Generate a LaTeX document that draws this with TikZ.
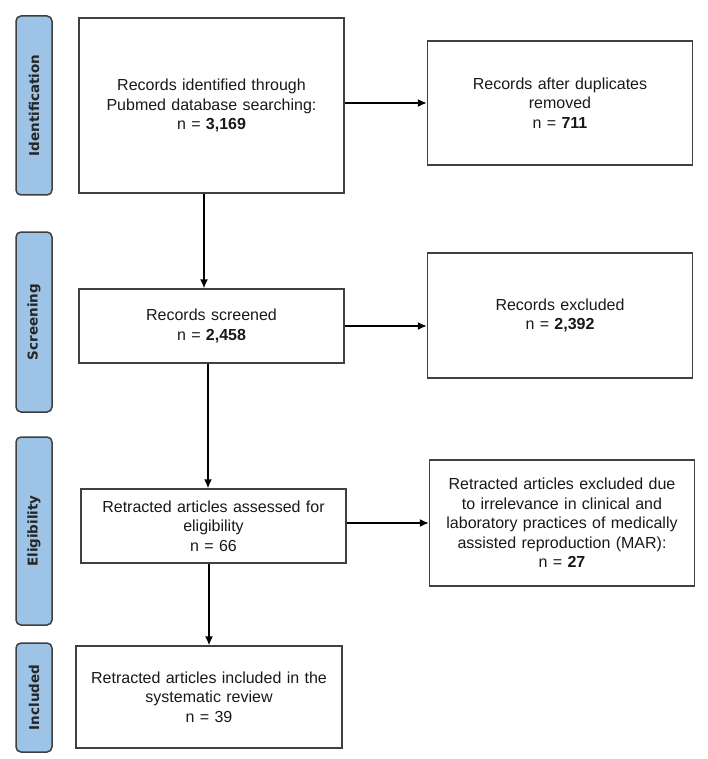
\documentclass[tikz,border=0pt]{standalone}
\usepackage{fontspec}
\setmainfont{Liberation Sans}
\newfontfamily\tabfont{DejaVu Sans}
\usepackage{tikz}
\usetikzlibrary{positioning,arrows.meta}
\definecolor{tabblue}{HTML}{9DC3E6}
\definecolor{tabline}{HTML}{3F3F3F}
\definecolor{boxline}{HTML}{404040}
\tikzset{
  stage/.style={rectangle, rounded corners=5pt, draw=tabline, line width=1.5pt,
    fill=tabblue, rotate=90, minimum height=36pt, inner sep=0pt,
    font=\tabfont\bfseries\fontsize{13.5}{15}\selectfont, text=black!85},
  record/.style={rectangle, draw=boxline, line width=1.4pt, align=center,
    inner sep=0pt, text width=250pt, minimum width=265pt,
    font=\fontsize{16}{19.5}\selectfont, text=black!90},
}

\begin{document}
\begin{tikzpicture}[x=1pt, y=-1pt, -{Latex[length=9pt,width=8pt]}]
  \useasboundingbox (0,0) rectangle (708,759);
  \node (ident) [stage, minimum width=179pt] at (34,105.5) {Identification};
  \node (screen) [stage, minimum width=180pt] at (34,322) {Screening};
  \node (elig) [stage, minimum width=188pt] at (34,531) {Eligibility};
  \node (incl) [stage, minimum width=109pt] at (34,697.5) {Included};
  \node (found) [record, minimum height=175pt] at (211.5,105.5)
    {Records identified through\\Pubmed database searching:\\n = \textbf{3,169}};
  \node (dedup) [record, minimum height=124pt] at (560,103)
    {Records after duplicates\\removed\\n = \textbf{711}};
  \node (scr) [record, minimum height=74pt] at (211.5,326)
    {Records screened\\n = \textbf{2,458}};
  \node (excl) [record, minimum height=125pt] at (560,315.5)
    {Records excluded\\n = \textbf{2,392}};
  \node (assess) [record, minimum height=74pt] at (213.5,526)
    {Retracted articles assessed for\\eligibility\\n = 66};
  \node (irrel) [record, minimum height=126pt] at (562,523)
    {Retracted articles excluded due\\to irrelevance in clinical and\\laboratory practices of medically\\assisted reproduction (MAR):\\n = \textbf{27}};
  \node (review) [record, minimum width=266pt, minimum height=102pt] at (209,697)
    {Retracted articles included in the\\systematic review\\n = 39};
  \path[line width=1.5pt]
    (found.east |- dedup.west) edge (dedup.west)
    (scr.east) edge (scr.east -| excl.west)
    (assess.east |- irrel.west) edge (irrel.west)
    ([xshift=-7.5pt]found.south) edge ([xshift=-7.5pt]found.south |- scr.north)
    ([xshift=-3.5pt]scr.south) edge ([xshift=-3.5pt]scr.south |- assess.north)
    (assess.south -| review.north) edge (review.north);
\end{tikzpicture}
\end{document}
